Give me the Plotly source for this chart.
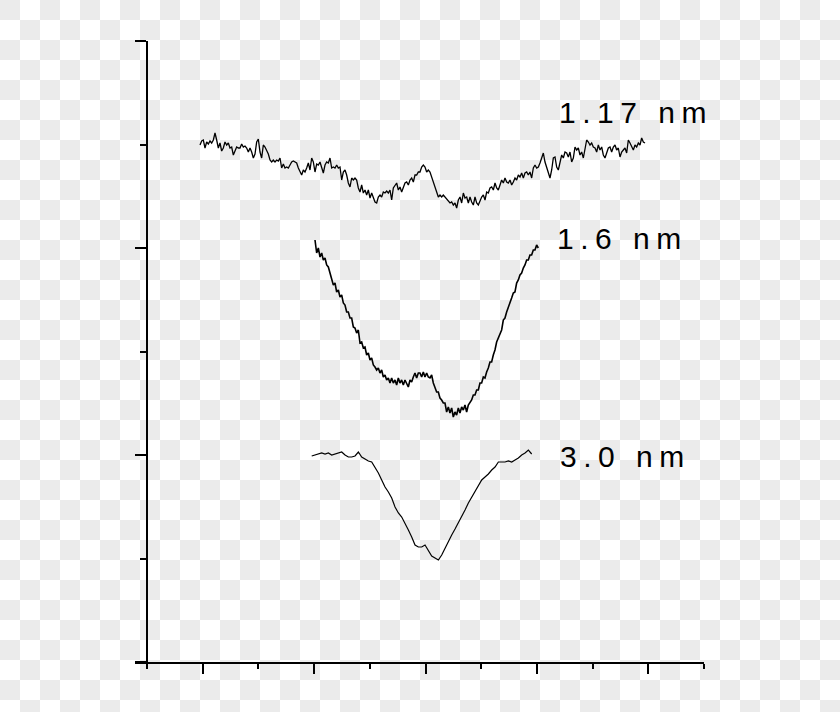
import base64
import numpy as np
import plotly.graph_objects as go

# ---- data: height profiles (arbitrary units), sampled uniformly along distance ----
X1_START, X1_END = 53.0, 498.0
H1 = [
    517, 521, 522, 514, 520, 518, 521, 519, 522, 529,
    522, 514, 519, 511, 514, 520, 517, 519, 514, 515,
    507, 512, 515, 514, 514, 518, 515, 516, 514, 510,
    514, 510, 504, 508, 520, 523, 510, 504, 517, 515,
    512, 508, 502, 500, 502, 500, 502, 501, 504, 494,
    498, 494, 495, 494, 497, 500, 501, 500, 499, 494,
    490, 487, 492, 490, 494, 499, 492, 504, 500, 490,
    498, 497, 500, 495, 489, 497, 500, 499, 504, 494,
    495, 494, 497, 494, 495, 482, 490,
    492, 487, 479, 475, 484, 482, 484, 482, 474, 470,
    477, 469, 472, 467, 472, 464, 469, 465, 460, 459,
    465, 467, 465, 470, 469, 471, 469, 472, 462, 474,
    477, 479, 472, 475, 470, 475, 479, 480, 477, 482,
    484, 480, 487, 487, 490, 490, 495, 497, 495, 490,
    492, 490, 485, 479, 475, 470, 465, 467, 465, 467,
    465, 464, 462, 459, 460, 457, 459, 454, 462, 465,
    459, 469, 464, 465, 459, 465, 460, 457, 465, 459,
    457, 462, 465, 467, 462, 470, 469, 474, 475, 472,
    479, 474, 472, 477, 482, 479, 484, 480, 479, 482,
    477, 480, 484, 482, 487, 485, 489, 484, 489, 490,
    487, 490, 484, 494, 497, 494, 495, 499, 505, 509,
    500, 494, 489, 484, 492, 504, 505, 495, 492, 499,
    507, 504, 510, 509, 505, 510, 500, 504, 515, 512,
    514, 507, 510, 504, 514, 522, 520, 517, 519, 515,
    514, 510, 517, 512, 515, 507, 504, 510, 514, 515,
    510, 515, 517, 512, 514, 505, 510, 512, 514, 509,
    522, 519, 515, 512, 517, 515, 519, 517, 524, 520,
    519,
]

X2_START, X2_END = 168.0, 391.3
H2 = [
    422, 409, 414, 405, 409, 402, 404, 397, 395, 389,
    385, 377, 379, 370, 372, 365, 367, 359, 357, 350,
    350, 344, 344, 335, 334, 329, 332, 319, 320, 314,
    315, 307, 309, 302, 304, 297, 295, 292, 294, 289,
    292, 285, 287, 282, 284, 279, 284, 279, 282, 277,
    284, 279, 282, 277, 282, 279, 275, 282, 280, 285,
    289, 284, 289,
    289, 285, 290, 285, 289, 285, 284, 287, 279, 275,
    270, 270, 264, 262, 259, 259, 250, 255, 249, 254,
    245, 250, 247, 254, 249, 255, 252, 257, 250, 257,
    260, 262, 267, 267, 272, 272, 279, 279, 285, 284,
    290, 294, 300, 300, 307, 312, 320, 324, 329, 332,
    342, 344, 350, 354, 359, 364, 369, 370, 379, 382,
    387, 389, 394, 397, 402, 402, 407, 407, 412, 412,
    417, 414,
]

X3_START, X3_END = 164.7, 384.7
H3 = [
    206, 207, 208, 209, 208, 209, 207, 208, 209, 210,
    207, 205, 205, 206, 210, 205, 203, 201, 200, 195,
    189, 182, 175, 170, 164, 155, 149, 145, 139, 132,
    125, 117, 115, 115, 117, 111, 106, 104, 102, 107,
    114, 120, 127, 133, 139, 145, 152, 159, 165, 170,
    177, 182, 185, 188, 192, 195, 200, 200, 200, 201,
    200, 202, 204, 207, 209, 212, 208,
]

LABELS = ["1.17 nm", "1.6 nm", "3.0 nm"]
LABEL_X = [409.7, 408.4, 410.7]
LABEL_Y = [549.7, 423.1, 205.4]
LINE_WIDTHS = [1.3, 1.6, 1.2]

X_RANGE = [-12, 557]
Y_RANGE = [0, 621]
X_STEP = 55.7     # minor tick spacing along x
Y_STEP = 103.5    # minor tick spacing along y

# ---- figure ----
W, H = 840, 712
ML, MR, MT, MB = 135, 136, 41, 50
PW, PH = W - ML - MR, H - MT - MB

fig = go.Figure()
for (h, xs, xe), lw in zip([(H1, X1_START, X1_END), (H2, X2_START, X2_END), (H3, X3_START, X3_END)], LINE_WIDTHS):
    fig.add_trace(go.Scatter(
        x=np.linspace(xs, xe, len(h)), y=h, mode="lines",
        line=dict(color="black", width=lw),
        showlegend=False, hoverinfo="skip",
    ))

for t, x, y in zip(LABELS, LABEL_X, LABEL_Y):
    fig.add_annotation(
        x=x, y=y, xref="x", yref="y", xanchor="left", yanchor="middle",
        text=f"<span style='letter-spacing:6.5px'>{t}</span>", showarrow=False,
        font=dict(family="Liberation Sans, Arial, sans-serif", size=30, color="black"),
    )

# checkerboard (transparent-image) background
svg = (
    f"<svg xmlns='http://www.w3.org/2000/svg' width='{W}' height='{H}'>"
    "<defs><pattern id='p' width='40' height='40' patternUnits='userSpaceOnUse'>"
    "<rect width='40' height='40' fill='#ffffff'/>"
    "<rect width='20' height='20' fill='#ebebeb'/>"
    "<rect x='20' y='20' width='20' height='20' fill='#ebebeb'/>"
    "</pattern></defs>"
    f"<rect width='{W}' height='{H}' fill='url(#p)'/></svg>"
)
src = "data:image/svg+xml;base64," + base64.b64encode(svg.encode()).decode()
fig.add_layout_image(
    source=src, xref="paper", yref="paper",
    x=-ML / PW, y=(PH + MT) / PH, sizex=W / PW, sizey=H / PH,
    xanchor="left", yanchor="top", sizing="stretch", layer="below",
)

fig.update_layout(
    width=W, height=H,
    margin=dict(l=ML, r=MR, t=MT, b=MB, pad=0),
    paper_bgcolor="white", plot_bgcolor="rgba(0,0,0,0)",
    showlegend=False,
)
fig.update_xaxes(
    range=X_RANGE, showline=True, linecolor="black", linewidth=2,
    ticks="outside", tick0=X_STEP, dtick=2 * X_STEP, ticklen=10, tickwidth=2, tickcolor="black",
    minor=dict(ticks="outside", tick0=0, dtick=X_STEP, ticklen=5, tickwidth=2, tickcolor="black", showgrid=False),
    showticklabels=False, showgrid=False, zeroline=False,
)
fig.update_yaxes(
    range=Y_RANGE, anchor="free", position=(0 - X_RANGE[0]) / (X_RANGE[1] - X_RANGE[0]),
    showline=True, linecolor="black", linewidth=2,
    ticks="outside", tick0=0, dtick=2 * Y_STEP, ticklen=11, tickwidth=2, tickcolor="black",
    minor=dict(ticks="outside", tick0=0, dtick=Y_STEP, ticklen=6, tickwidth=2, tickcolor="black", showgrid=False),
    showticklabels=False, showgrid=False, zeroline=False,
)

fig.write_html("out.html", config={"displayModeBar": False},
               post_script="document.body.style.margin='0';")
